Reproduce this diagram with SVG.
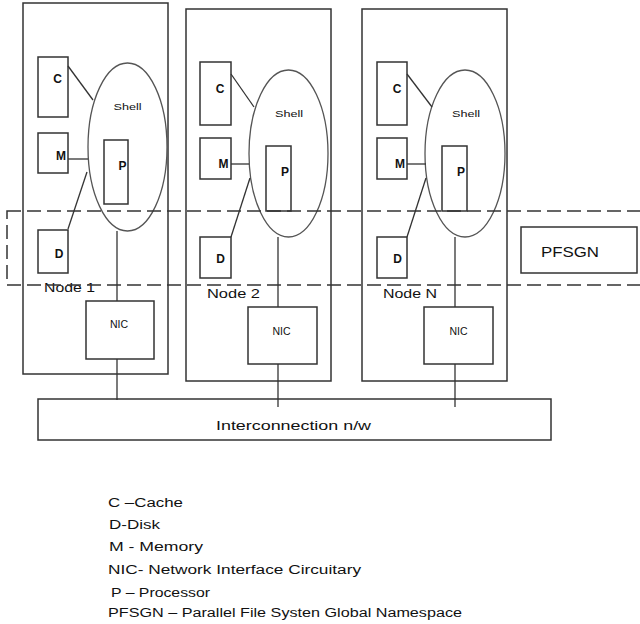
<svg xmlns="http://www.w3.org/2000/svg" width="640" height="624" viewBox="0 0 640 624">
<style>
.b{fill:none;stroke:#333;stroke-width:1.5}
.e{fill:none;stroke:#555;stroke-width:1.3}
.l{fill:none;stroke:#333;stroke-width:1.3}
.d{fill:none;stroke:#333;stroke-width:1.5;stroke-dasharray:14 6}
text{font-family:"Liberation Sans",Arial,sans-serif;fill:#111}
.k{font-size:12px;font-weight:bold}
.s{font-size:9.5px}
.n{font-size:10.5px}
.g{font-size:12.5px}
</style>
<rect width="640" height="624" fill="#fff"/>
<g id="node1">
<rect class="b" x="23" y="3" width="145" height="371"/>
<rect class="b" x="38" y="57" width="30" height="60"/>
<text class="k" x="57.5" y="83" text-anchor="middle">C</text>
<rect class="b" x="38" y="133" width="30" height="40"/>
<text class="k" x="61" y="160" text-anchor="middle">M</text>
<rect class="b" x="38" y="230" width="30" height="43"/>
<text class="k" x="59" y="258" text-anchor="middle">D</text>
<ellipse class="e" cx="127.5" cy="147" rx="39.5" ry="84"/>
<text class="s" x="127.5" y="110" text-anchor="middle" textLength="28" lengthAdjust="spacingAndGlyphs">Shell</text>
<rect class="b" x="104" y="140" width="24" height="64"/>
<text class="k" x="122.5" y="170" text-anchor="middle">P</text>
<rect class="b" x="86" y="301" width="68" height="58"/>
<text class="n" x="119" y="328" text-anchor="middle">NIC</text>
<text class="g" x="44" y="292" textLength="51" lengthAdjust="spacingAndGlyphs">Node 1</text>
</g>
<g id="node2">
<rect class="b" x="186" y="9" width="145" height="372"/>
<rect class="b" x="200" y="62" width="31" height="63"/>
<text class="k" x="220" y="93" text-anchor="middle">C</text>
<rect class="b" x="200" y="138" width="31" height="41"/>
<text class="k" x="223.5" y="168" text-anchor="middle">M</text>
<rect class="b" x="200" y="237" width="31" height="41"/>
<text class="k" x="220.5" y="263" text-anchor="middle">D</text>
<ellipse class="e" cx="288.5" cy="153.5" rx="39.5" ry="83.5"/>
<text class="s" x="289" y="117" text-anchor="middle" textLength="28" lengthAdjust="spacingAndGlyphs">Shell</text>
<rect class="b" x="266" y="146" width="25" height="65"/>
<text class="k" x="285" y="176" text-anchor="middle">P</text>
<rect class="b" x="248" y="307" width="69" height="57"/>
<text class="n" x="281.5" y="335" text-anchor="middle">NIC</text>
<text class="g" x="207" y="298" textLength="53" lengthAdjust="spacingAndGlyphs">Node 2</text>
</g>
<g id="nodeN">
<rect class="b" x="362" y="9" width="145" height="372"/>
<rect class="b" x="377" y="62" width="30" height="63"/>
<text class="k" x="397" y="93" text-anchor="middle">C</text>
<rect class="b" x="377" y="138" width="30" height="41"/>
<text class="k" x="400" y="168" text-anchor="middle">M</text>
<rect class="b" x="377" y="237" width="30" height="41"/>
<text class="k" x="397.5" y="263" text-anchor="middle">D</text>
<ellipse class="e" cx="465" cy="153.5" rx="40" ry="83.5"/>
<text class="s" x="466" y="117" text-anchor="middle" textLength="28" lengthAdjust="spacingAndGlyphs">Shell</text>
<rect class="b" x="442" y="146" width="25" height="65"/>
<text class="k" x="461" y="176" text-anchor="middle">P</text>
<rect class="b" x="424" y="307" width="69" height="57"/>
<text class="n" x="458.5" y="335" text-anchor="middle">NIC</text>
<text class="g" x="383" y="298" textLength="54" lengthAdjust="spacingAndGlyphs">Node N</text>
</g>
<g id="pfsgn">
<rect class="d" x="7" y="211" width="650" height="74"/>
<rect class="b" x="521" y="227" width="116" height="46"/>
<text x="541" y="257" font-size="15" textLength="58" lengthAdjust="spacingAndGlyphs">PFSGN</text>
</g>
<g id="interconnect">
<rect class="b" x="38" y="399" width="513" height="41"/>
<text x="216" y="430" font-size="13" textLength="155" lengthAdjust="spacingAndGlyphs">Interconnection n/w</text>
</g>
<g id="connectors">
<line class="l" x1="68" y1="66" x2="93" y2="100"/>
<line class="l" x1="68" y1="159" x2="88" y2="159"/>
<line class="l" x1="68" y1="229" x2="87" y2="172"/>
<line class="l" x1="117" y1="231" x2="117" y2="301"/>
<line class="l" x1="117" y1="359" x2="117" y2="400"/>
<line class="l" x1="231" y1="74" x2="254" y2="107"/>
<line class="l" x1="231" y1="164" x2="249" y2="164"/>
<line class="l" x1="231" y1="237" x2="250" y2="178"/>
<line class="l" x1="278" y1="237" x2="278" y2="307"/>
<line class="l" x1="278" y1="364" x2="278" y2="407"/>
<line class="l" x1="407" y1="74" x2="432" y2="107"/>
<line class="l" x1="407" y1="164" x2="426" y2="164"/>
<line class="l" x1="407" y1="237" x2="426" y2="178"/>
<line class="l" x1="455" y1="237" x2="455" y2="307"/>
<line class="l" x1="455" y1="364" x2="455" y2="407"/>
</g>
<g id="legend" font-size="12.5">
<text x="108" y="507" textLength="75" lengthAdjust="spacingAndGlyphs">C –Cache</text>
<text x="109" y="529" textLength="51" lengthAdjust="spacingAndGlyphs">D-Disk</text>
<text x="109" y="551" textLength="94" lengthAdjust="spacingAndGlyphs">M - Memory</text>
<text x="108" y="574" textLength="253" lengthAdjust="spacingAndGlyphs">NIC- Network Interface Circuitary</text>
<text x="111" y="597" textLength="99" lengthAdjust="spacingAndGlyphs">P – Processor</text>
<text x="108" y="617" textLength="354" lengthAdjust="spacingAndGlyphs">PFSGN – Parallel File Systen Global Namespace</text>
</g>
</svg>
